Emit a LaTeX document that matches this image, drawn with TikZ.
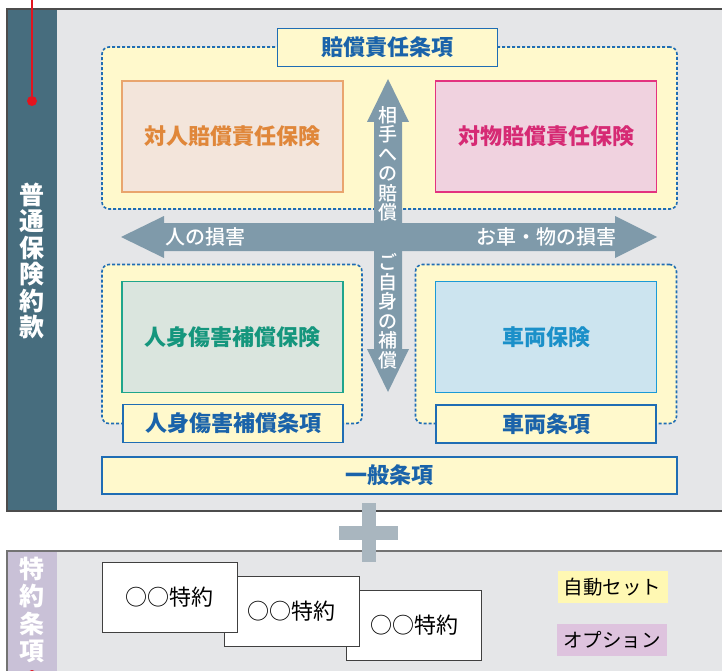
\documentclass[tikz,border=0pt]{standalone}
\usepackage{fontspec}
\newfontfamily\jp{Noto Sans CJK JP}
\newfontfamily\jpmed{Noto Sans CJK JP Medium}

\definecolor{barteal}{HTML}{476D7E}
\definecolor{barlilac}{HTML}{C9C1D7}
\definecolor{panelgray}{HTML}{E5E6E8}
\definecolor{groupyellow}{HTML}{FFF9CC}
\definecolor{clauseblue}{HTML}{1F6DB4}
\definecolor{clausetext}{HTML}{1A63AA}
\definecolor{arrowgray}{HTML}{7F9AAA}
\definecolor{plusgray}{HTML}{A9B6BF}
\definecolor{markred}{HTML}{E3141E}
\definecolor{autoyellow}{HTML}{FFF8B3}
\definecolor{optlilac}{HTML}{DEC3DE}
\definecolor{taijinfill}{HTML}{F3E5DB}
\definecolor{taijinline}{HTML}{E9A56E}
\definecolor{taijintext}{HTML}{E0873A}
\definecolor{taibutsufill}{HTML}{F0D2DF}
\definecolor{taibutsuline}{HTML}{E3337F}
\definecolor{taibutsutext}{HTML}{D62A74}
\definecolor{jinshinfill}{HTML}{DAE5DE}
\definecolor{jinshinline}{HTML}{1FA58C}
\definecolor{jinshintext}{HTML}{15967D}
\definecolor{sharyofill}{HTML}{CCE4EF}
\definecolor{sharyoline}{HTML}{1B9AD6}
\definecolor{sharyotext}{HTML}{1B90C9}

\begin{document}
\begin{tikzpicture}[x=1pt,y=-1pt]

\tikzset{insbox/.style={shape=rectangle, minimum width=221pt, minimum height=111pt, inner sep=0, line width=1.5, font={\jp\bfseries\fontsize{22}{24}\selectfont}}}
\tikzset{clause/.style={shape=rectangle, fill=groupyellow, draw=clauseblue, line width=1.3, minimum width=220pt, minimum height=38pt, inner sep=0, text=clausetext, font={\jp\bfseries\fontsize{22}{24}\selectfont}}}
\tikzset{group/.style={shape=rectangle, fill=groupyellow, draw=clauseblue, dash pattern=on 3pt off 2pt, line width=1.6, rounded corners=7, inner sep=0}}
\tikzset{arrowbody/.style={fill=arrowgray}}
\tikzset{arrowtext/.style={text=white, inner sep=0, font={\jpmed\fontsize{20}{20}\selectfont}}}
\tikzset{arrowvtext/.style={text=white, inner sep=0, align=center, font={\jpmed\fontsize{19}{19.5}\selectfont}}}
\tikzset{sidetext/.style={text=white, inner sep=0, align=center, font={\jp\bfseries\fontsize{25}{26.5}\selectfont}}}
\tikzset{rider/.style={shape=rectangle, fill=white, draw=black!75, line width=1, minimum width=135pt, minimum height=70pt, inner sep=0, font={\jp\fontsize{22}{22}\selectfont}}}
\tikzset{legend/.style={shape=rectangle, minimum width=110pt, minimum height=32pt, inner sep=0, font={\jp\fontsize{19.5}{19.5}\selectfont}}}
\tikzset{reddot/.style={shape=circle, fill=markred, minimum size=10pt, inner sep=0}}

\useasboundingbox (0,0) rectangle (722,671);

% panels
\fill[panelgray] (7,9) rectangle (730,511);
\fill[barteal] (7,9) rectangle (57,511);
\draw[black!70, line width=1.3] (7,9) rectangle (730,511);
\fill[panelgray] (7,551) rectangle (730,690);
\fill[barlilac] (7,551) rectangle (57,690);
\draw[black!55, line width=2] (7,690) -- (7,551) -- (730,551);

\coordinate (redtop) at (32,0);
\node[reddot] (dot1) at (32,101) {};
\draw[markred, line width=1.5] (redtop) -- (dot1);
\node[reddot] (dot2) at (32,675) {};

\node[sidetext] (futsu) at (32,261) {普\\通\\保\\険\\約\\款};
\node[sidetext, font={\jp\bfseries\fontsize{25}{27.5}\selectfont}] (tokuyaku) at (32,610) {特\\約\\条\\項};

% groups
\node[group, minimum width=575pt, minimum height=162pt] (liabgroup) at (389.5,128) {};
\node[group, minimum width=260pt, minimum height=159pt] (persgroup) at (232,344) {};
\node[group, minimum width=261pt, minimum height=159pt] (cargroup) at (546,344) {};

\node[insbox, fill=taijinfill, draw=taijinline, text=taijintext] (taijin) at (232.5,136.5) {対人賠償責任保険};
\node[insbox, fill=taibutsufill, draw=taibutsuline, text=taibutsutext] (taibutsu) at (546,136.5) {対物賠償責任保険};
\node[insbox, fill=jinshinfill, draw=jinshinline, text=jinshintext] (jinshin) at (232.5,337) {人身傷害補償保険};
\node[insbox, fill=sharyofill, draw=sharyoline, text=sharyotext] (sharyo) at (546,337) {車両保険};

\node[clause] (liabclause) at (387.5,47.5) {賠償責任条項};
\node[clause] (persclause) at (233,423.5) {人身傷害補償条項};
\node[clause] (carclause) at (546,424) {車両条項};
\node[clause, minimum width=575pt, minimum height=37pt, line width=2] (general) at (389.5,475.5) {一般条項};

% arrows
\fill[arrowbody] (121,237) -- (164,216) -- (164,223) -- (615,223) -- (615,216) -- (657,237) -- (615,258) -- (615,251) -- (164,251) -- (164,258) -- cycle;
\fill[arrowbody] (388,79) -- (409,122) -- (402,122) -- (402,349) -- (409,349) -- (388,392) -- (367,349) -- (374,349) -- (374,122) -- (367,122) -- cycle;
\node[arrowtext] (hito) at (205,237) {人の損害};
\node[arrowtext] (mono) at (546,237) {お車・物の損害};
\node[arrowvtext] (aite) at (388,164) {相\\手\\へ\\の\\賠\\償};
\node[arrowvtext] (jishin) at (388,311) {ご\\自\\身\\の\\補\\償};

% plus
\fill[plusgray] (362,503) rectangle (376,562);
\fill[plusgray] (339,526) rectangle (398,540);

% riders
\node[rider] (rider3) at (414,625) {○○特約};
\node[rider] (rider2) at (291.5,611) {○○特約};
\node[rider] (rider1) at (169.5,597) {○○特約};

\node[legend, fill=autoyellow] (auto) at (612.5,587) {自動セット};
\node[legend, fill=optlilac] (option) at (612,640) {オプション};

\end{tikzpicture}
\end{document}
